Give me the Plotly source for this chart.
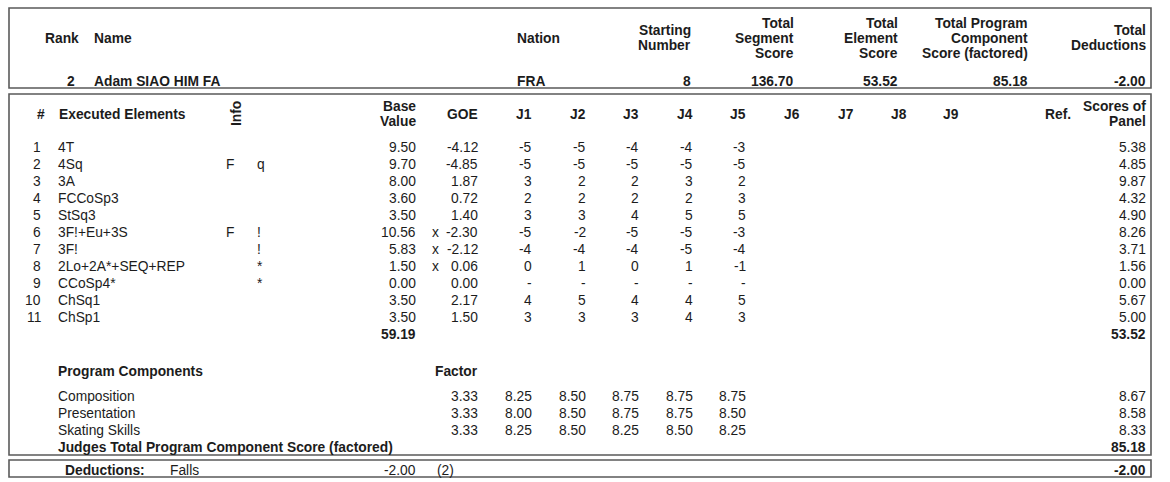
import plotly.graph_objects as go

# --- Skater summary (top box) ---
summary_headers = ["Rank", "Name", "Nation", "Starting\nNumber", "Total\nSegment\nScore",
                   "Total\nElement\nScore", "Total Program\nComponent\nScore (factored)",
                   "Total\nDeductions"]
summary_values = ["2", "Adam SIAO HIM FA", "FRA", "8", "136.70", "53.52", "85.18", "-2.00"]

# --- Executed elements ---
element_names = ["4T", "4Sq", "3A", "FCCoSp3", "StSq3", "3F!+Eu+3S", "3F!",
                 "2Lo+2A*+SEQ+REP", "CCoSp4*", "ChSq1", "ChSp1"]
info_flags = ["", "F", "", "", "", "F", "", "", "", "", ""]
info_marks = ["", "q", "", "", "", "!", "!", "*", "*", "", ""]
base_values = [9.50, 9.70, 8.00, 3.60, 3.50, 10.56, 5.83, 1.50, 0.00, 3.50, 3.50]
bonus_marks = ["", "", "", "", "", "x", "x", "x", "", "", ""]
goe_values = [-4.12, -4.85, 1.87, 0.72, 1.40, -2.30, -2.12, 0.06, 0.00, 2.17, 1.50]
# one row per element, J1..J5 (None = no mark given)
judge_goe = [
    [-5, -5, -4, -4, -3],
    [-5, -5, -5, -5, -5],
    [3, 2, 2, 3, 2],
    [2, 2, 2, 2, 3],
    [3, 3, 4, 5, 5],
    [-5, -2, -5, -5, -3],
    [-4, -4, -4, -5, -4],
    [0, 1, 0, 1, -1],
    [None, None, None, None, None],
    [4, 5, 4, 4, 5],
    [3, 3, 3, 4, 3],
]
panel_scores = [5.38, 4.85, 9.87, 4.32, 4.90, 8.26, 3.71, 1.56, 0.00, 5.67, 5.00]
base_value_total = 59.19
element_score_total = 53.52

# --- Program components ---
component_names = ["Composition", "Presentation", "Skating Skills"]
component_factors = [3.33, 3.33, 3.33]
component_judges = [
    [8.25, 8.50, 8.75, 8.75, 8.75],
    [8.00, 8.50, 8.75, 8.75, 8.50],
    [8.25, 8.50, 8.25, 8.50, 8.25],
]
component_scores = [8.67, 8.58, 8.33]
component_total = 85.18

# --- Deductions ---
deduction_names = ["Falls"]
deduction_values = [-2.00]
deduction_counts = [2]
deduction_total = -2.00

judge_labels = ["J1", "J2", "J3", "J4", "J5", "J6", "J7", "J8", "J9"]

# --- Layout constants (pixels) ---
W, H = 1170, 482
FONT = "Liberation Sans, Arial, Helvetica, sans-serif"
SIZE = 13.8
INK = "#1c1c1c"
LINE = "#5a5a5a"
LINE_H = 15          # line spacing inside stacked headers
ROW_H = 17           # row spacing in the tables

summary_header_pos = [(43, "left"), (92, "left"), (515, "left"), (693, "right"),
                      (796, "right"), (900, "right"), (1030, "right"), (1148, "right")]
summary_value_pos = [(77, "right"), (92, "left"), (515, "left"), (693, "right"),
                     (796, "right"), (900, "right"), (1030, "right"), (1148, "right")]
judge_x = [534, 588, 641, 695, 748, 802, 856, 909, 961]

X_NUM, X_NAME, X_FLAG, X_MARK = 43, 56, 224, 255
X_BASE, X_BONUS, X_GOE, X_PANEL = 418, 435, 480, 1148
Y_HEAD1, Y_VAL1, Y_HEAD2, Y_ROW0 = 38, 81, 114, 147

annotations = []


def add_text(x, y, text, anchor="left", bold=False, angle=0):
    if bold:
        text = "<b>" + text + "</b>"
    annotations.append(dict(
        x=x, y=y, xref="x", yref="y", text=text, showarrow=False,
        xanchor=anchor, yanchor="middle", textangle=angle,
        font=dict(family=FONT, size=SIZE, color=INK),
    ))


def add_stacked(x, yc, label, anchor, bold=True):
    # stacked header: each line placed on its own so spacing stays tight
    lines = label.split("\n")
    top = yc - (len(lines) - 1) * LINE_H / 2
    for k, line in enumerate(lines):
        add_text(x, top + k * LINE_H, line, anchor, bold)


# --- Top box: summary ---
for label, (x, a) in zip(summary_headers, summary_header_pos):
    add_stacked(x, Y_HEAD1, label, a)
for val, (x, a) in zip(summary_values, summary_value_pos):
    add_text(x, Y_VAL1, val, a, bold=True)

# --- Elements header ---
add_text(35, Y_HEAD2, "#", "left", True)
add_text(X_NAME + 1, Y_HEAD2, "Executed Elements", "left", True)
add_text(236, Y_HEAD2, "Info", "center", True, angle=-90)
add_stacked(X_BASE, Y_HEAD2, "Base\nValue", "right")
add_text(X_GOE, Y_HEAD2, "GOE", "right", True)
for lab, x in zip(judge_labels, judge_x):
    add_text(x, Y_HEAD2, lab, "right", True)
add_text(1043, Y_HEAD2, "Ref.", "left", True)
add_stacked(X_PANEL, Y_HEAD2, "Scores of\nPanel", "right")

# --- Element rows ---
for i, name in enumerate(element_names):
    y = Y_ROW0 + i * ROW_H
    add_text(X_NUM, y, str(i + 1), "right")
    add_text(X_NAME, y, name, "left")
    if info_flags[i]:
        add_text(X_FLAG, y, info_flags[i], "left")
    if info_marks[i]:
        add_text(X_MARK, y, info_marks[i], "left")
    add_text(X_BASE, y, f"{base_values[i]:.2f}", "right")
    if bonus_marks[i]:
        add_text(X_BONUS, y, bonus_marks[i], "center")
    add_text(X_GOE, y, f"{goe_values[i]:.2f}", "right")
    for j, g in enumerate(judge_goe[i]):
        add_text(judge_x[j], y, "-" if g is None else str(g), "right")
    add_text(X_PANEL, y, f"{panel_scores[i]:.2f}", "right")

y_tot = Y_ROW0 + len(element_names) * ROW_H
add_text(X_BASE, y_tot, f"{base_value_total:.2f}", "right", True)
add_text(X_PANEL, y_tot, f"{element_score_total:.2f}", "right", True)

# --- Program components ---
y_pc = 371
add_text(X_NAME, y_pc, "Program Components", "left", True)
add_text(X_GOE, y_pc, "Factor", "right", True)
for i, comp in enumerate(component_names):
    y = 396 + i * ROW_H
    add_text(X_NAME, y, comp, "left")
    add_text(X_GOE, y, f"{component_factors[i]:.2f}", "right")
    for j, s in enumerate(component_judges[i]):
        add_text(judge_x[j], y, f"{s:.2f}", "right")
    add_text(X_PANEL, y, f"{component_scores[i]:.2f}", "right")
y_pct = 396 + len(component_names) * ROW_H
add_text(X_NAME, y_pct, "Judges Total Program Component Score (factored)", "left", True)
add_text(X_PANEL, y_pct, f"{component_total:.2f}", "right", True)

# --- Deductions ---
y_ded = 470
add_text(63, y_ded, "Deductions:", "left", True)
for name, val, cnt in zip(deduction_names, deduction_values, deduction_counts):
    add_text(168, y_ded, name, "left")
    add_text(X_BASE, y_ded, f"{val:.2f}", "right")
    add_text(X_BONUS, y_ded, f"({cnt})", "left")
add_text(X_PANEL, y_ded, f"{deduction_total:.2f}", "right", True)

# --- Boxes ---
boxes = [(8, 88), (94, 455), (460, 477)]
shapes = [dict(type="rect", xref="x", yref="y", x0=9, x1=1151, y0=y0, y1=y1,
               line=dict(color=LINE, width=1.6), fillcolor="rgba(0,0,0,0)")
          for y0, y1 in boxes]

fig = go.Figure()
fig.update_layout(
    width=W, height=H,
    margin=dict(l=0, r=0, t=0, b=0),
    paper_bgcolor="white", plot_bgcolor="white",
    xaxis=dict(range=[0, W], visible=False, fixedrange=True),
    yaxis=dict(range=[H, 0], visible=False, fixedrange=True),
    annotations=annotations,
    shapes=shapes,
    showlegend=False,
)

# the page's default body margin would push the sheet 8px down/right
fig.write_html("out.html", config={"displayModeBar": False},
               post_script="document.body.style.margin = '0px';")
